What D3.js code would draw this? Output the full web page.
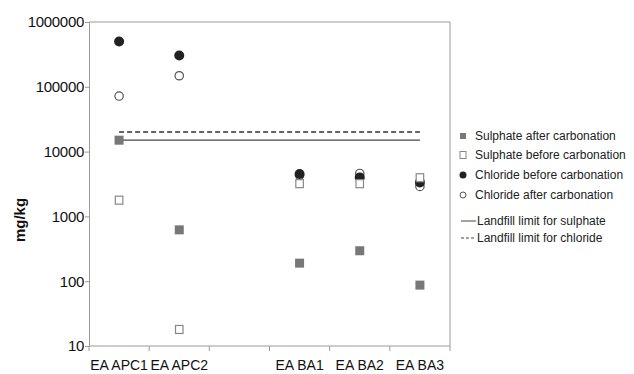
<!DOCTYPE html>
<html>
<head>
<meta charset="utf-8">
<script src="https://cdn.jsdelivr.net/npm/d3@7"></script>
<style>
  html, body { margin: 0; padding: 0; background: #fff; }
  svg { display: block; font-family: "Liberation Sans", Arial, sans-serif; }
</style>
</head>
<body>
<svg id="chart" width="634" height="374"></svg>
<script>
// Samples (with a spacer slot between the APC and BA groups)
const categories = ["EA APC1", "EA APC2", "", "EA BA1", "EA BA2", "EA BA3"];
const samples = ["EA APC1", "EA APC2", "EA BA1", "EA BA2", "EA BA3"];

// Leached concentrations, mg/kg
const sulphateAfter  = [15000, 620, 190, 295, 87];
const sulphateBefore = [1780, 18, 3200, 3200, 3950];
const chlorideBefore = [500000, 305000, 4500, 4000, 3350];
const chlorideAfter  = [72000, 148000, 4300, 4600, 2900];

// Landfill acceptance limits, mg/kg
const limitSulphate = 15000;
const limitChloride = 20000;

const yTicks = [10, 100, 1000, 10000, 100000, 1000000];

const legendLabels = [
  "Sulphate after carbonation",
  "Sulphate before carbonation",
  "Chloride before carbonation",
  "Chloride after carbonation",
  "Landfill limit for sulphate",
  "Landfill limit for chloride"
];

const svg = d3.select("#chart");
const m = { left: 89, top: 22, right: 450, bottom: 346 };
const axisColor = "#9a9a9a";

const x = d3.scaleBand().domain(categories).range([m.left, m.right]);
const y = d3.scaleLog().domain([10, 1000000]).range([m.bottom, m.top]);
const cx = d => x(d) + x.bandwidth() / 2;

// Frame: top and right borders
svg.append("path")
  .attr("d", `M${m.left},${m.top}H${m.right}V${m.bottom}`)
  .attr("fill", "none").attr("stroke", axisColor).attr("stroke-width", 1);

// Y axis
const gy = svg.append("g").attr("transform", `translate(${m.left},0)`)
  .call(d3.axisLeft(y).tickValues(yTicks).tickFormat(d3.format("d")).tickSizeOuter(0).tickSize(4));
gy.select(".domain").attr("stroke", axisColor);
gy.selectAll(".tick line").attr("stroke", axisColor);
gy.selectAll(".tick text").attr("font-size", 15).attr("fill", "#111").attr("x", -5)
  .attr("font-family", "Liberation Sans, Arial, sans-serif").attr("letter-spacing", -0.3);

// X axis: ticks at category boundaries
svg.append("line").attr("x1", m.left).attr("x2", m.right)
  .attr("y1", m.bottom).attr("y2", m.bottom).attr("stroke", axisColor);
const bounds = categories.map(c => x(c)).concat([m.right]);
svg.append("g").selectAll("line").data(bounds).join("line")
  .attr("x1", d => d).attr("x2", d => d)
  .attr("y1", m.bottom).attr("y2", m.bottom + 5)
  .attr("stroke", axisColor);
svg.append("g").selectAll("text").data(categories.filter(c => c)).join("text")
  .attr("x", d => cx(d)).attr("y", 370)
  .attr("text-anchor", "middle").attr("font-size", 14).attr("fill", "#111")
  .text(d => d);

// Y axis title
svg.append("text")
  .attr("transform", "translate(25,220) rotate(-90)")
  .attr("text-anchor", "middle").attr("font-size", 15).attr("font-weight", "bold")
  .attr("fill", "#111").text("mg/kg");

// Limit lines across the sample range
const first = cx(samples[0]), last = cx(samples[samples.length - 1]);
svg.append("line").attr("x1", first).attr("x2", last)
  .attr("y1", y(limitSulphate)).attr("y2", y(limitSulphate))
  .attr("stroke", "#444").attr("stroke-width", 1.2);
svg.append("line").attr("x1", first).attr("x2", last)
  .attr("y1", y(limitChloride)).attr("y2", y(limitChloride))
  .attr("stroke", "#333").attr("stroke-width", 1.5).attr("stroke-dasharray", "5,3");

const pts = arr => samples.map((s, i) => ({ s, v: arr[i] }));

// Chloride after (open circles)
svg.append("g").selectAll("circle").data(pts(chlorideAfter)).join("circle")
  .attr("cx", d => cx(d.s)).attr("cy", d => y(d.v)).attr("r", 4.2)
  .attr("fill", "#fff").attr("stroke", "#555").attr("stroke-width", 1.2);

// Chloride before (filled circles)
svg.append("g").selectAll("circle").data(pts(chlorideBefore)).join("circle")
  .attr("cx", d => cx(d.s)).attr("cy", d => y(d.v)).attr("r", 5)
  .attr("fill", "#222");

// Sulphate before (open squares)
svg.append("g").selectAll("rect").data(pts(sulphateBefore)).join("rect")
  .attr("x", d => cx(d.s) - 3.75).attr("y", d => y(d.v) - 4)
  .attr("width", 7.5).attr("height", 8)
  .attr("fill", "#fff").attr("stroke", "#888").attr("stroke-width", 1.2);

// Sulphate after (filled grey squares)
svg.append("g").selectAll("rect").data(pts(sulphateAfter)).join("rect")
  .attr("x", d => cx(d.s) - 4.5).attr("y", d => y(d.v) - 4.5)
  .attr("width", 9).attr("height", 9)
  .attr("fill", "#777");

// Legend
const lg = svg.append("g");
const rowY = [136, 155, 175, 195, 221, 238];
const lx = 463;
lg.append("rect").attr("x", lx - 3).attr("y", rowY[0] - 3).attr("width", 6).attr("height", 6).attr("fill", "#777");
lg.append("rect").attr("x", lx - 3).attr("y", rowY[1] - 3.5).attr("width", 6).attr("height", 7)
  .attr("fill", "#fff").attr("stroke", "#888");
lg.append("circle").attr("cx", lx).attr("cy", rowY[2]).attr("r", 3.5).attr("fill", "#222");
lg.append("circle").attr("cx", lx).attr("cy", rowY[3]).attr("r", 3).attr("fill", "#fff").attr("stroke", "#555");
lg.append("line").attr("x1", 461).attr("x2", 476).attr("y1", rowY[4]).attr("y2", rowY[4])
  .attr("stroke", "#444");
lg.append("line").attr("x1", 461).attr("x2", 476).attr("y1", rowY[5]).attr("y2", rowY[5])
  .attr("stroke", "#444").attr("stroke-dasharray", "3,2");
lg.selectAll("text").data(legendLabels).join("text")
  .attr("x", (d, i) => i < 4 ? 475 : 477)
  .attr("y", (d, i) => rowY[i] + 4)
  .attr("font-size", 12).attr("fill", "#222")
  .text(d => d);
</script>
</body>
</html>
